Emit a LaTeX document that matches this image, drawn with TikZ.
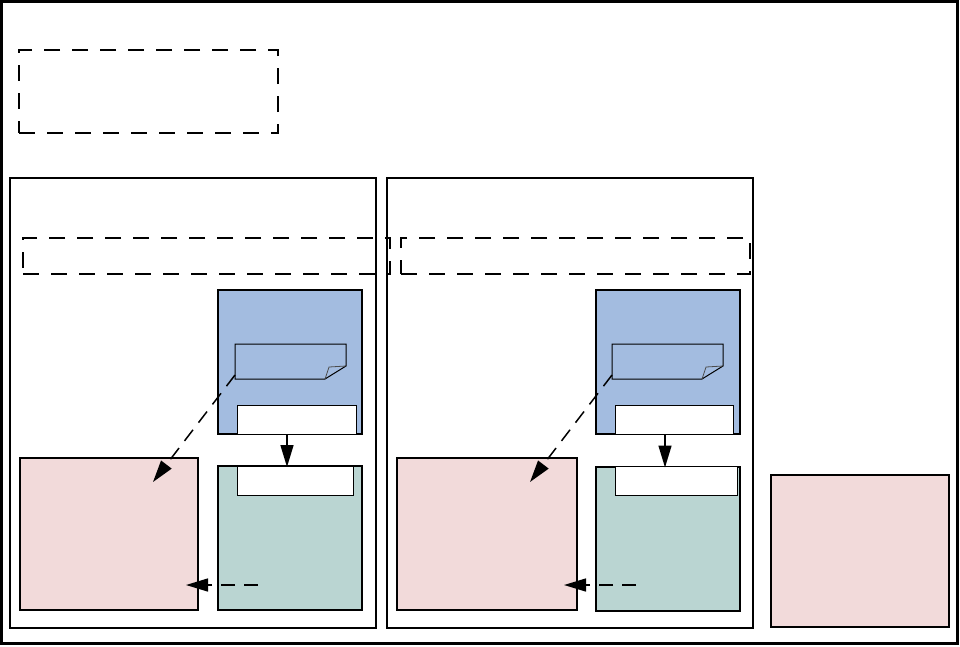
\documentclass[tikz,border=0pt]{standalone}
\usetikzlibrary{arrows.meta,calc}
\definecolor{bluefill}{RGB}{163,188,224}
\definecolor{greenfill}{RGB}{186,213,210}
\definecolor{pinkfill}{RGB}{242,218,218}
\begin{document}
\begin{tikzpicture}[x=1pt,y=-1pt,
  every node/.style={inner sep=0pt,outer sep=0pt,rectangle},
  panelbox/.style={draw,line width=2pt},
  dashbox/.style={draw,line width=2pt,dash pattern=on 16pt off 12pt},
  bluebox/.style={draw,fill=bluefill,line width=2pt},
  greenbox/.style={draw,fill=greenfill,line width=2pt},
  pinkbox/.style={draw,fill=pinkfill,line width=1.2pt},
  labelbox/.style={draw,fill=white,line width=1pt},
  notearea/.style={},
  notepath/.style={line width=1pt},
  foldpath/.style={line width=0.8pt,draw=black!70},
  solidarrow/.style={line width=1.5pt,-{Triangle[length=22pt,width=13pt]}},
  dasharrow/.style={line width=1.5pt,dash pattern=on 14pt off 9pt,-{Triangle[length=22pt,width=13pt]}},
]
\useasboundingbox (0,0) rectangle (960,646);
% outer frame
\node[draw,line width=2.5pt,minimum width=956pt,minimum height=642pt] (frame) at (479.5,322.5) {};
% top dashed box
\node[dashbox,minimum width=259pt,minimum height=83pt] (topdash) at (148.5,91.5) {};
% panels
\node[panelbox,minimum width=366pt,minimum height=450pt] (panelL) at (193,403) {};
\node[panelbox,minimum width=366pt,minimum height=450pt] (panelR) at (570,403) {};
% wide dashed boxes
\node[dashbox,minimum width=367pt,minimum height=36pt] (dashL) at (206.5,256) {};
\node[dashbox,minimum width=349pt,minimum height=36pt] (dashR) at (575.5,256) {};
% blue boxes
\node[bluebox,minimum width=144pt,minimum height=144pt] (blueL) at (290,362) {};
\node[bluebox,minimum width=144pt,minimum height=144pt] (blueR) at (668,362) {};
% labels in blue boxes
\node[labelbox,minimum width=119pt,minimum height=29pt] (labBL) at (296.5,419.5) {};
\node[labelbox,minimum width=118pt,minimum height=29pt] (labBR) at (674,419.5) {};
% green boxes
\node[greenbox,minimum width=144pt,minimum height=144pt] (greenL) at (290,538) {};
\node[greenbox,minimum width=144pt,minimum height=144pt] (greenR) at (668,538.5) {};
\node[labelbox,minimum width=116pt,minimum height=29pt] (labGL) at (295,480.5) {};
\node[labelbox,minimum width=122pt,minimum height=29pt] (labGR) at (676,481) {};
% pink boxes
\node[pinkbox,minimum width=178pt,minimum height=152pt] (pinkL) at (109,534) {};
\node[pinkbox,minimum width=180pt,minimum height=152pt] (pinkR) at (487,534) {};
\node[pinkbox,minimum width=178pt,minimum height=152pt] (pinkFar) at (860,551) {};
% notes (folded corner)
\node[notearea,minimum width=111pt,minimum height=35pt] (noteL) at (290.5,361.5) {};
\node[notearea,minimum width=111pt,minimum height=35pt] (noteR) at (667.5,361.5) {};
\foreach \n in {noteL,noteR}{
  \draw[notepath] (\n.north west) -- (\n.north east) -- ($(\n.north east)+(0,22)$)
     -- ($(\n.south east)+(-21,0)$) -- (\n.south west) -- cycle;
  \draw[foldpath] ($(\n.south east)+(-21,0)$) -- ($(\n.south east)+(-17,-12)$) -- ($(\n.north east)+(0,22)$);
}
% arrows
\draw[solidarrow] ($(blueL.south)+(-3,0)$) -- ($(greenL.north)+(-3,1)$);
\draw[solidarrow] ($(blueR.south)+(-3,0)$) -- ($(greenR.north)+(-3,1)$);
\coordinate (tipL) at (153,482);
\coordinate (tipR) at (530,482);
\draw[dasharrow] ($(noteL.south west)+(0,-4)$) -- (tipL);
\draw[dasharrow] ($(noteR.south west)+(0,-4)$) -- (tipR);
\coordinate (srcL) at (258,585);
\coordinate (dstL) at (186,585);
\coordinate (srcR) at (636,585);
\coordinate (dstR) at (564,585);
\draw[dasharrow] (srcL) -- (dstL);
\draw[dasharrow] (srcR) -- (dstR);
\end{tikzpicture}
\end{document}
